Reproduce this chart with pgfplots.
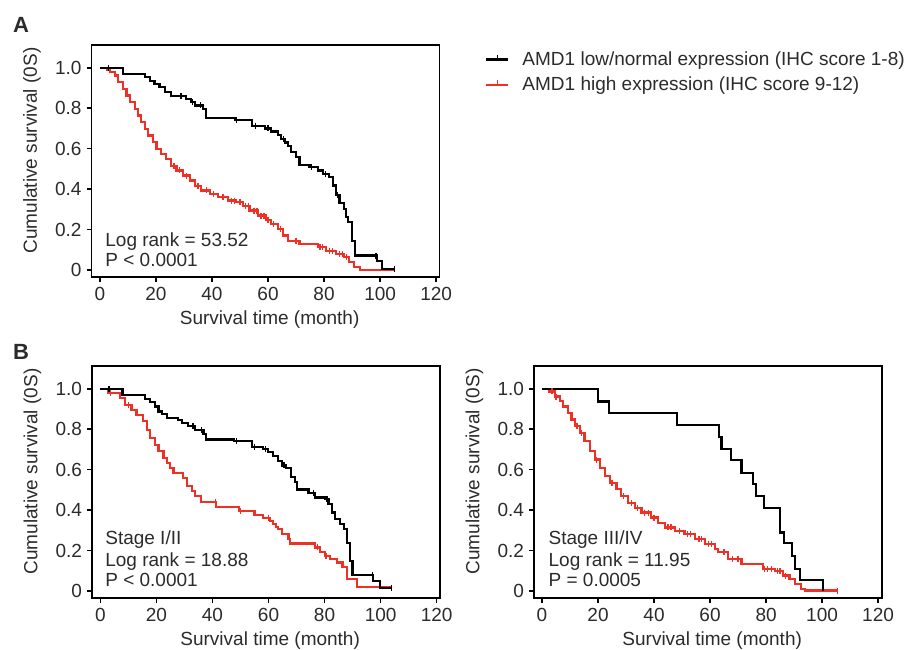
\documentclass[border=0pt]{standalone}
\usepackage{fontspec}
\setmainfont{Liberation Sans}
\usepackage{pgfplots}
\pgfplotsset{compat=1.18}

\definecolor{kmred}{HTML}{EE3124}
\definecolor{txt}{HTML}{2B2B2B}
\newcommand{\lbl}{\fontsize{19bp}{21bp}\selectfont}

\pgfplotsset{
  km/.style={
    scale only axis, width=348bp, height=232bp,
    xmin=-3, xmax=121.2, ymin=-0.035, ymax=1.113,
    xtick={0,20,...,120},
    ytick={0,0.2,0.4,0.6,0.8,1}, yticklabels={0,0.2,0.4,0.6,0.8,1.0},
    tick align=outside, xtick pos=left, ytick pos=left,
    major tick length=5bp,
    axis line style={line width=1.9bp, black},
    every tick/.style={line width=1.6bp, black},
    tick label style={font=\lbl, text=txt},
    label style={font=\lbl, text=txt},
    /pgf/number format/assume math mode=true,
    xlabel={Survival time (month)},
    ylabel={Cumulative survival (0S)},
    xlabel style={at={(axis description cs:0.512,-0.185)}, anchor=center},
    ylabel style={at={(axis description cs:-0.171,0.545)}, anchor=center},
    xticklabel style={yshift=-1.5bp},
    yticklabel style={xshift=-1.5bp},
  },
  curve/.style={const plot, line width=2.2bp, no marks},
  cens/.style={only marks, mark=|, mark size=3bp, mark options={line width=1.4bp}, forget plot},
}

\begin{document}
\begin{tikzpicture}[x=1bp,y=1bp]
\useasboundingbox (0,0) rectangle (911,650);
\node[font=\bfseries\fontsize{22bp}{24bp}\selectfont, text=txt] at (21,625) {A};
\node[font=\bfseries\fontsize{22bp}{24bp}\selectfont, text=txt] at (21,298) {B};

% Panel A
\begin{axis}[km, at={(91.5bp,373bp)}, anchor=south west,
  reverse legend,
  legend style={at={(axis description cs:1.131,0.98)}, anchor=north west,
    draw=none, fill=none, font=\lbl, text=txt, row sep=6bp, column sep=11bp,
    inner sep=0pt, cells={anchor=west}},
  legend image code/.code={
    \draw[#1, line width=2.2bp] (0bp,0bp) -- (22bp,0bp);
    \draw[#1, line width=1.6bp] (11bp,0bp) -- (11bp,4.5bp);}]
\addplot[curve, kmred] coordinates {
(0,1.0) (2.4,0.99) (3.6,0.98) (5.3,0.962) (6.5,0.929) (8.3,0.896) (9.5,0.863)
(10.7,0.83) (12.5,0.797) (13.6,0.764) (14.8,0.731) (16,0.698) (17.2,0.665)
(19,0.632) (20.2,0.599) (21.9,0.574) (23.7,0.55) (25.5,0.516) (27.3,0.492)
(29.7,0.467) (32.1,0.442) (33.8,0.417) (36.2,0.393) (39.2,0.376) (42.1,0.36)
(45.7,0.343) (48.7,0.335) (51,0.318) (53.4,0.294) (56.4,0.269) (59.4,0.247)
(61.1,0.228) (63.5,0.203) (65.3,0.17) (67.1,0.145) (71.2,0.128) (77.7,0.112)
(80.6,0.095) (84.3,0.079) (87.2,0.063) (89,0.038) (90.8,0.013) (92.9,0.0)
(105.2,0.0)};
\addlegendentry{AMD1 high expression (IHC score 9-12)}
\addplot[curve, black] coordinates {
(0,1.0) (8.3,0.97) (16,0.954) (17.8,0.935) (19.5,0.92) (21.3,0.904) (23.1,0.879)
(25.4,0.862) (30.8,0.846) (32.5,0.83) (33.8,0.814) (36.8,0.797) (38.0,0.752)
(48.1,0.741) (54.4,0.714) (58.8,0.70) (61.1,0.685) (63.5,0.668) (64.7,0.649)
(66,0.63) (67.1,0.612) (68.3,0.582) (70.0,0.558) (71.2,0.52) (74.8,0.508)
(77.7,0.492) (79.5,0.475) (81.9,0.459) (83.1,0.418) (84.3,0.37) (85.5,0.33)
(87.2,0.302) (87.8,0.26) (88.6,0.236) (89.9,0.145) (91.1,0.071) (99,0.046)
(100.8,0.005) (105.2,0.005)};
\addlegendentry{AMD1 low/normal expression (IHC score 1-8)}
\addplot[cens, kmred] coordinates {
(26.5,0.516) (28.5,0.492) (31,0.467) (35,0.417) (38,0.393) (40.5,0.376)
(44,0.36) (47,0.343) (48,0.343) (50,0.335) (52,0.318) (53,0.318) (55,0.294)
(56,0.294) (57.5,0.269) (58.5,0.269) (60,0.247) (62,0.228) (64.5,0.203)
(70,0.145) (78.5,0.112) (79.5,0.112) (82,0.095) (83,0.095) (85.5,0.079)
(86.5,0.079) (88,0.063)};
\addplot[cens, black] coordinates {
(3,1.0) (29,0.862) (33,0.83) (36,0.814) (48.8,0.741) (55.5,0.714) (60,0.70)
(65.5,0.649) (75.5,0.508) (80.6,0.475) (84.8,0.37) (98.5,0.071) (105.2,0.005)};
\node[anchor=base west, font=\lbl, text=txt] at (axis cs:0.7,0.114) {Log rank = 53.52};
\node[anchor=base west, font=\lbl, text=txt] at (axis cs:0.7,0.015) {P < 0.0001};
\end{axis}

% Panel B, stage I/II
\begin{axis}[km, at={(92bp,52bp)}, anchor=south west]
\addplot[curve, kmred] coordinates {
(0,1.0) (2.8,0.979) (6.9,0.954) (8.7,0.921) (11.1,0.897) (12.9,0.872)
(15.3,0.839) (16.5,0.798) (17.7,0.757) (19.5,0.724) (20.7,0.691) (22.5,0.658)
(23.7,0.634) (24.9,0.609) (26.1,0.584) (29.6,0.56) (30.8,0.519) (32.6,0.494)
(33.8,0.47) (35.9,0.44) (41.3,0.417) (49.6,0.395) (55,0.375) (58,0.362)
(60.5,0.347) (61.5,0.33) (62.7,0.318) (63.5,0.305) (64.7,0.281) (67.1,0.256)
(67.7,0.235) (76.6,0.215) (78.4,0.191) (80.2,0.174) (82,0.158) (84.4,0.141)
(86.4,0.117) (88,0.059) (91.5,0.018) (103.8,0.018)};
\addplot[curve, black] coordinates {
(0,1.0) (7.9,0.97) (15.9,0.949) (17.7,0.933) (19.5,0.913) (20.7,0.888)
(21.9,0.877) (23.9,0.856) (27.8,0.844) (29,0.831) (31.4,0.818) (33.8,0.798)
(36.8,0.778) (37.8,0.749) (47.7,0.74) (54,0.713) (58.1,0.703) (59.9,0.686)
(61.7,0.667) (63.5,0.642) (64.7,0.621) (66.3,0.609) (67.9,0.565) (69.5,0.539)
(70.2,0.502) (74.3,0.486) (76.6,0.462) (80.2,0.453) (81.4,0.429) (82.6,0.388)
(83.8,0.355) (85.6,0.33) (86.8,0.305) (88,0.239) (89.2,0.15) (90.0,0.079)
(97.4,0.051) (99.8,0.013) (103.8,0.013)};
\addplot[cens, kmred] coordinates {
(3.5,0.979) (10,0.921) (41,0.44) (50,0.395) (60,0.362) (77.5,0.215) (80.5,0.174)};
\addplot[cens, black] coordinates {
(3,1.0) (33,0.818) (36,0.798) (48.5,0.74) (55,0.713) (59,0.703) (65.5,0.621)
(76,0.486) (80.8,0.453) (97,0.079) (103.8,0.013)};
\node[anchor=base west, font=\lbl, text=txt] at (axis cs:0.5,0.232) {Stage I/II};
\node[anchor=base west, font=\lbl, text=txt] at (axis cs:0.5,0.123) {Log rank = 18.88};
\node[anchor=base west, font=\lbl, text=txt] at (axis cs:0.5,0.02) {P < 0.0001};
\end{axis}

% Panel B, stage III/IV
\begin{axis}[km, at={(534bp,52bp)}, anchor=south west, xmin=-2.86, xmax=121.4]
\addplot[curve, kmred] coordinates {
(0,1.0) (2.7,0.987) (4.5,0.962) (6.3,0.938) (7.5,0.913) (9.3,0.88) (10.5,0.848)
(11.7,0.815) (13.5,0.782) (15.2,0.74) (17,0.691) (18.8,0.65) (20.6,0.609)
(22.4,0.568) (24.2,0.535) (26.6,0.503) (28.3,0.47) (30.7,0.437) (33.1,0.412)
(35.5,0.388) (39,0.363) (41.4,0.338) (43.8,0.314) (47.4,0.297) (50.9,0.281)
(54.5,0.256) (58.1,0.232) (61.7,0.207) (62.9,0.191) (66.4,0.158) (71.2,0.133)
(78.9,0.108) (83.1,0.1) (86.1,0.076) (88.4,0.059) (90.2,0.034) (92.6,0.01)
(93.8,0.002) (105.5,0.002)};
\addplot[curve, black] coordinates {
(0,1.0) (20.1,0.937) (24,0.88) (48.1,0.822) (63.2,0.762) (64.1,0.703)
(67.4,0.647) (71.2,0.585) (75.2,0.53) (76.4,0.468) (79.4,0.41) (85.1,0.289)
(86.3,0.237) (89.4,0.172) (90.4,0.11) (92.2,0.056) (100.2,0.056) (100.2,0.0)};
\addplot[cens, kmred] coordinates {
(3.5,0.987) (5,0.962) (12.5,0.815) (14,0.782) (19.5,0.65) (25,0.535) (29,0.47)
(32,0.437) (34,0.412) (36.5,0.388) (38,0.388) (40,0.363) (45,0.314) (46,0.314)
(49,0.297) (52,0.281) (53,0.281) (56,0.256) (57,0.256) (59.5,0.232) (60.5,0.232)
(65,0.191) (68,0.158) (70,0.158) (79.5,0.108) (80.5,0.108) (82,0.108) (84,0.1)
(85,0.1) (87,0.076) (105.5,0.002)};
\node[anchor=base west, font=\lbl, text=txt] at (axis cs:1.1,0.232) {Stage III/IV};
\node[anchor=base west, font=\lbl, text=txt] at (axis cs:1.1,0.123) {Log rank = 11.95};
\node[anchor=base west, font=\lbl, text=txt] at (axis cs:1.1,0.02) {P = 0.0005};
\end{axis}
\end{tikzpicture}
\end{document}
